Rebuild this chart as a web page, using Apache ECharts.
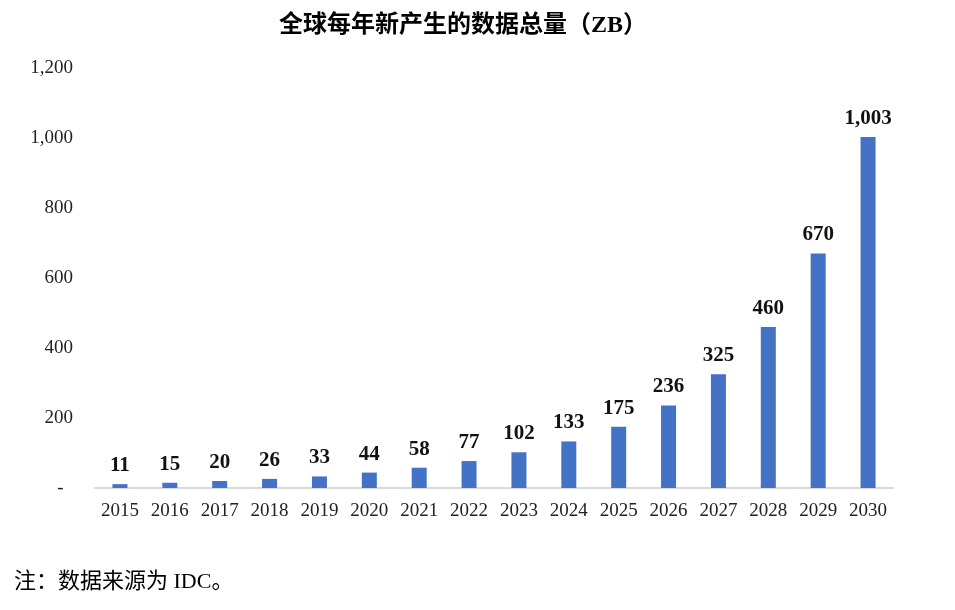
<!DOCTYPE html>
<html>
<head>
<meta charset="utf-8">
<script src="https://cdn.jsdelivr.net/npm/echarts@6/dist/echarts.min.js"></script>
<style>
  html, body { margin: 0; padding: 0; background: #fff; }
  #chart { width: 955px; height: 610px; }
</style>
</head>
<body>
<div id="chart"></div>
<script>
const years = ['2015', '2016', '2017', '2018', '2019', '2020', '2021', '2022',
  '2023', '2024', '2025', '2026', '2027', '2028', '2029', '2030'];
const dataZB = [11, 15, 20, 26, 33, 44, 58, 77, 102, 133, 175, 236, 325, 460, 670, 1003];
const titleText = '全球每年新产生的数据总量（ZB）';
const noteText = '注：数据来源为 IDC。';

const serif = '"Liberation Serif", "Times New Roman", "Noto Sans CJK SC", serif';

// 千分位，0 显示为 "-"（会计格式）
function fmt(v) {
  if (v === 0) return '-';
  return v.toString().replace(/\B(?=(\d{3})+(?!\d))/g, ',');
}

const chart = echarts.init(document.getElementById('chart'));
chart.setOption({
  backgroundColor: '#fff',
  animation: false,
  title: [{
    text: titleText,
    left: 274,
    top: 9,
    textStyle: { fontFamily: serif, fontSize: 24, fontWeight: 'bold', color: '#000' }
  }, {
    text: noteText,
    left: 9,
    top: 566,
    textStyle: { fontFamily: serif, fontSize: 22, fontWeight: 'normal', color: '#000' }
  }],
  grid: { left: 95, right: 62, top: 68, bottom: 122 },
  xAxis: {
    type: 'category',
    data: years,
    axisLine: { lineStyle: { color: '#d9d9d9', width: 2 } },
    axisTick: { show: false },
    axisLabel: { fontFamily: serif, fontSize: 19, color: '#222', margin: 14 }
  },
  yAxis: {
    type: 'value',
    min: 0,
    max: 1200,
    interval: 200,
    splitLine: { show: false },
    axisLine: { show: false },
    axisTick: { show: false },
    axisLabel: {
      fontFamily: serif, fontSize: 19, color: '#222', margin: 22,
      formatter: v => v === 0 ? '-  ' : fmt(v)
    }
  },
  series: [{
    type: 'bar',
    data: dataZB,
    barWidth: 15,
    itemStyle: { color: '#4472c4' },
    label: {
      show: true,
      position: 'top',
      distance: 8,
      fontFamily: serif,
      fontSize: 21,
      fontWeight: 'bold',
      color: '#111',
      formatter: p => fmt(p.value)
    }
  }]
});
</script>
</body>
</html>
